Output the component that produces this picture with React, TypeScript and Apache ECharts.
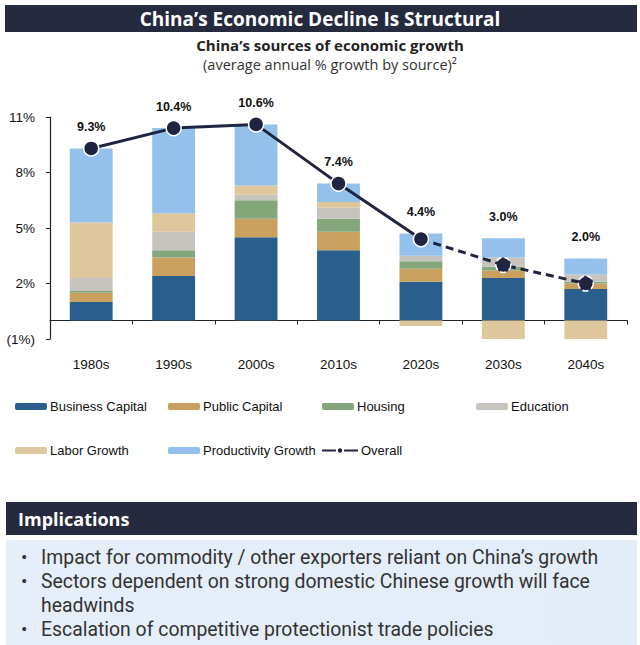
import React, { useEffect, useRef } from "react";
import * as echarts from "echarts";

const categories = ["1980s", "1990s", "2000s", "2010s", "2020s", "2030s", "2040s"];
const businessCapital = [1.0, 2.4, 4.5, 3.8, 2.1, 2.3, 1.7];
const publicCapital = [0.5, 1.0, 1.0, 1.0, 0.7, 0.4, 0.3];
const housing = [0.1, 0.4, 1.0, 0.7, 0.4, 0.2, 0.1];
const education = [0.7, 1.0, 0.3, 0.6, 0.3, 0.5, 0.4];
const laborGrowth = [3.0, 1.0, 0.5, 0.3, -0.3, -1.0, -1.0];
const productivityGrowth = [4.0, 4.6, 3.3, 1.0, 1.2, 1.05, 0.85];
const overall = [9.3, 10.4, 10.6, 7.4, 4.4, 3.0, 2.0];
const lastActualIndex = 4; // 2020s: solid line up to here, dashed (projection) after

const yTicks = { min: -1, max: 11, interval: 3 };

const bullets = [
  "Impact for commodity / other exporters reliant on China\u2019s growth",
  "Sectors dependent on strong domestic Chinese growth will face",
  "headwinds",
  "Escalation of competitive protectionist trade policies",
];
const bulletMarks = [true, true, false, true];

const NAVY = "#252a3e";
const LINE = "#1f2540";
const CHART_FONT = "'Liberation Sans Narrow', 'Liberation Sans', Arial, sans-serif";
const HEAD_FONT = "'Open Sans', 'Noto Sans', sans-serif";
const BODY_FONT = "Roboto, 'Noto Sans', sans-serif";

const colors = {
  bc: "#2a5f8d",
  pc: "#c9a05d",
  housing: "#84a67a",
  edu: "#c7c3bf",
  labor: "#dec79c",
  prod: "#93c1ec",
};

export default function App() {
  const ref = useRef<HTMLDivElement>(null);
  useEffect(() => {
    document.body.style.margin = "0";
    const chart = echarts.init(ref.current!, null, { renderer: "svg" });

    const barSeries = (name: string, data: number[], color: string, extra: any = {}) => ({
      name,
      type: "bar",
      stack: "total",
      data,
      barWidth: "52%",
      itemStyle: { color },
      emphasis: { disabled: true },
      ...extra,
    });

    const solid = overall.map((v, i) => (i <= lastActualIndex ? v : null));
    const dashed = overall.map((v, i) =>
      i < lastActualIndex ? null : i === lastActualIndex ? { value: v, symbol: "none" } : v
    );

    const legendItem = (name: string, left: number, top: number, w = 32, h = 7) => ({
      data: [name],
      left,
      top,
      padding: 0,
      itemWidth: w,
      itemHeight: h,
      itemGap: 0,
      selectedMode: false,
      textStyle: { fontFamily: CHART_FONT, fontSize: 13, color: "#111", padding: [0, 0, 0, -2] },
    });

    const graphic: any[] = [
      { type: "rect", shape: { x: 5, y: 5, width: 632, height: 27 }, style: { fill: NAVY } },
      {
        type: "text",
        x: 320,
        y: 18.5,
        style: {
          text: "China\u2019s Economic Decline Is Structural",
          fill: "#fff",
          font: `bold 19px ${HEAD_FONT}`,
          lineHeight: 22,
          align: "center",
          verticalAlign: "middle",
        },
      },
      {
        type: "text",
        x: 330,
        y: 44.5,
        style: {
          text: "China\u2019s sources of economic growth",
          fill: "#222",
          font: `bold 15px ${HEAD_FONT}`,
          align: "center",
          verticalAlign: "middle",
        },
      },
      {
        type: "text",
        x: 330,
        y: 64,
        style: {
          text: "(average annual % growth by source)\u00b2",
          fill: "#333",
          font: `14.5px ${HEAD_FONT}`,
          align: "center",
          verticalAlign: "middle",
        },
      },
      { type: "rect", shape: { x: 6, y: 502, width: 631, height: 33 }, style: { fill: NAVY } },
      {
        type: "text",
        x: 18,
        y: 519,
        style: {
          text: "Implications",
          fill: "#fff",
          font: `bold 18px ${HEAD_FONT}`,
          align: "left",
          verticalAlign: "middle",
        },
      },
      {
        type: "rect",
        shape: { x: 6, y: 540, width: 631, height: 105 },
        style: {
          fill: new echarts.graphic.LinearGradient(0, 0, 1, 0, [
            { offset: 0, color: "#e6eff9" },
            { offset: 1, color: "#e3edf8" },
          ]),
        },
      },
    ];
    bullets.forEach((t, i) => {
      const y = 557 + i * 24;
      if (bulletMarks[i]) {
        graphic.push({
          type: "text",
          x: 21,
          y,
          style: { text: "\u2022", fill: "#333", font: `19px ${BODY_FONT}`, align: "left", verticalAlign: "middle" },
        });
      }
      graphic.push({
        type: "text",
        x: 41,
        y,
        style: { text: t, fill: "#333", font: `19.4px ${BODY_FONT}`, align: "left", verticalAlign: "middle" },
      });
    });

    chart.setOption({
      animation: false,
      backgroundColor: "#fff",
      grid: { left: 50, right: 13, top: 117, bottom: 306, containLabel: false },
      legend: [
        legendItem("Business Capital", 15, 400),
        legendItem("Public Capital", 168, 400),
        legendItem("Housing", 322, 400),
        legendItem("Education", 476, 400),
        legendItem("Labor Growth", 15, 444),
        legendItem("Productivity Growth", 168, 444),
        legendItem("Overall", 321, 444, 36, 8),
      ],
      xAxis: {
        type: "category",
        data: categories,
        axisLine: { onZero: true, lineStyle: { color: "#222", width: 1.2 } },
        axisTick: { show: true, length: 4, lineStyle: { color: "#222" } },
        axisLabel: { margin: 18, fontFamily: CHART_FONT, fontSize: 13.5, color: "#111" },
      },
      yAxis: {
        type: "value",
        min: yTicks.min,
        max: yTicks.max,
        interval: yTicks.interval,
        axisLine: { show: true, lineStyle: { color: "#222", width: 1.2 } },
        axisTick: { show: true, length: 4, lineStyle: { color: "#222" } },
        splitLine: { show: false },
        axisLabel: {
          margin: 15,
          fontFamily: CHART_FONT,
          fontSize: 13.5,
          color: "#111",
          formatter: (v: number) => (v < 0 ? `(${-v}%)` : `${v}%`),
        },
      },
      series: [
        barSeries("Business Capital", businessCapital, colors.bc),
        barSeries("Public Capital", publicCapital, colors.pc),
        barSeries("Housing", housing, colors.housing),
        barSeries("Education", education, colors.edu),
        barSeries("Labor Growth", laborGrowth, colors.labor),
        barSeries("Productivity Growth", productivityGrowth, colors.prod, {
          label: {
            show: true,
            position: "top",
            distance: 15,
            fontFamily: CHART_FONT,
            fontWeight: "bold",
            fontSize: 12.5,
            color: "#111",
            formatter: (p: any) => `${overall[p.dataIndex].toFixed(1)}%`,
          },
        }),
        {
          name: "Overall",
          type: "line",
          data: solid,
          symbol: "circle",
          symbolSize: 15,
          lineStyle: { color: LINE, width: 3 },
          itemStyle: { color: LINE, borderColor: "#fff", borderWidth: 1.5 },
          emphasis: { disabled: true },
          z: 6,
        },
        {
          name: "Overall",
          type: "line",
          data: dashed,
          symbol: "circle",
          symbolSize: 15,
          lineStyle: { color: LINE, width: 3, type: [8, 5] },
          itemStyle: { color: LINE, borderColor: "#fff", borderWidth: 1.5, borderType: "dashed" },
          emphasis: { disabled: true },
          z: 5,
        },
      ],
      graphic,
    });
    return () => chart.dispose();
  }, []);
  return (
    <div
      ref={ref}
      style={{ position: "absolute", left: 0, top: 0, width: 640, height: 645 }}
    />
  );
}
